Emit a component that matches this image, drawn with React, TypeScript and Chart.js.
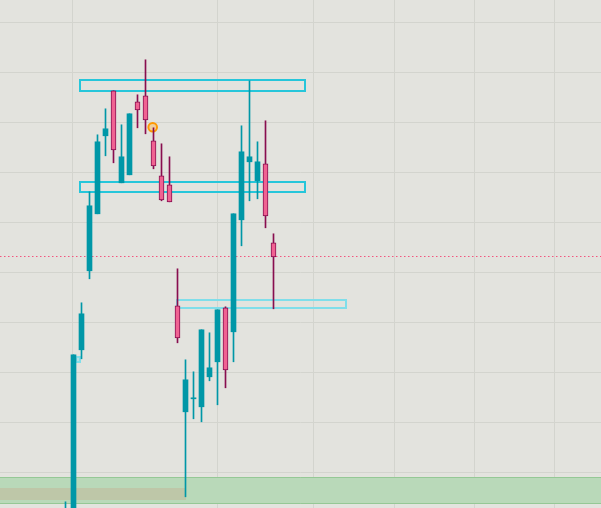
import React, { useEffect, useRef } from "react";
import { Chart, registerables } from "chart.js";

Chart.register(...registerables);

// ---- data ----
const candleIndex = [0, 1, 2, 3, 4, 5, 6, 7, 8, 9, 10, 11, 12, 13, 14, 15, 16, 17, 18, 19, 20, 21, 22, 23, 24, 25, 26];
const opens = [98.85, 98.25, 102.45, 104.03, 105.17, 106.73, 107.63, 105.79, 105.95, 107.41, 107.53, 106.63, 105.93, 105.75, 103.33, 101.21, 101.47, 101.31, 101.91, 102.21, 103.29, 102.81, 105.05, 106.21, 105.83, 106.17, 104.59];
const highs = [99.41, 102.35, 103.39, 105.61, 106.75, 107.27, 107.63, 106.95, 107.17, 107.55, 108.25, 106.89, 106.57, 106.31, 104.07, 102.25, 102.01, 102.85, 102.79, 103.25, 103.31, 105.17, 106.93, 107.83, 106.61, 107.03, 104.77];
const lows = [98.6, 97.85, 102.27, 103.87, 105.17, 106.33, 106.19, 105.79, 105.95, 106.89, 106.77, 106.07, 105.43, 105.41, 102.59, 99.51, 101.07, 101.01, 101.83, 101.35, 101.69, 102.21, 104.53, 105.43, 105.47, 104.89, 103.27];
const closes = [99.15, 102.35, 103.17, 105.33, 106.61, 106.87, 106.45, 106.31, 107.17, 107.25, 107.05, 106.13, 105.45, 105.41, 102.69, 101.85, 101.49, 102.85, 102.09, 103.25, 102.05, 105.17, 106.41, 106.31, 106.21, 105.13, 104.31];

// vertical grid (session boundaries) in candle-index units
const xGridTicks = [0.875, 18.975, 30.975, 41.1, 51.1, 61.1];
const yGridTicks = [100, 101, 102, 103, 104, 105, 106, 107, 108, 109];
const xRange = [-8.1875, 66.9375];
const yRange = [99.286, 109.446];

// [x1, x2, top, bottom]
const upperBox = [1.8125, 29.9, 107.85, 107.62];
const middleBox = [1.8125, 29.9, 105.81, 105.6];
const lowerBox = [13.94, 35.06, 103.45, 103.29];
const smallBox = [1.3125, 1.8125, 102.31, 102.21];
const greenZone = [-9, 70, 99.9, 99.372];
const tanZone = [-9, 15.025, 99.69, 99.45];
const dottedLevel = 104.32;
const markerPoint = [10.9, 106.9];

const UP = "#0097a7";
const DOWN_FILL = "#f06292";
const DOWN_LINE = "#880e4f";

export default function App() {
  const ref = useRef<HTMLCanvasElement | null>(null);

  useEffect(() => {
    const canvas = ref.current;
    if (!canvas) return;
    const isUp = candleIndex.map((_, i) => closes[i] >= opens[i]);

    const overlay = {
      id: "overlay",
      beforeDraw(chart: any) {
        const { ctx, width, height } = chart;
        ctx.save();
        ctx.fillStyle = "#e3e3de";
        ctx.fillRect(0, 0, width, height);
        ctx.restore();
      },
      beforeDatasetsDraw(chart: any) {
        const { ctx } = chart;
        const xs = chart.scales.x;
        const ys = chart.scales.y;
        const rect = (b: number[]) => {
          const x1 = Math.round(xs.getPixelForValue(b[0]));
          const x2 = Math.round(xs.getPixelForValue(b[1]));
          const y1 = Math.round(ys.getPixelForValue(b[2]));
          const y2 = Math.round(ys.getPixelForValue(b[3]));
          return [x1, y1, x2 - x1, y2 - y1];
        };
        ctx.save();
        // green zone
        let r = rect(greenZone);
        ctx.fillStyle = "#b9d9b9";
        ctx.fillRect(r[0], r[1], r[2], r[3]);
        ctx.strokeStyle = "rgba(140,195,140,0.8)";
        ctx.lineWidth = 1;
        ctx.beginPath();
        ctx.moveTo(r[0], r[1] + 0.5);
        ctx.lineTo(r[0] + r[2], r[1] + 0.5);
        ctx.moveTo(r[0], r[1] + r[3] - 0.5);
        ctx.lineTo(r[0] + r[2], r[1] + r[3] - 0.5);
        ctx.stroke();
        // tan zone
        r = rect(tanZone);
        ctx.fillStyle = "#bec7a8";
        ctx.fillRect(r[0], r[1], r[2], r[3]);
        // dotted level
        const dy = Math.round(ys.getPixelForValue(dottedLevel)) + 0.5;
        ctx.strokeStyle = "#f2557f";
        ctx.setLineDash([1.5, 2.5]);
        ctx.lineWidth = 1;
        ctx.beginPath();
        ctx.moveTo(0, dy);
        ctx.lineTo(chart.width, dy);
        ctx.stroke();
        ctx.setLineDash([]);
        // boxes
        ctx.lineWidth = 2;
        ctx.strokeStyle = "#26c6da";
        r = rect(upperBox);
        ctx.strokeRect(r[0], r[1], r[2], r[3]);
        r = rect(middleBox);
        ctx.strokeRect(r[0], r[1], r[2], r[3]);
        ctx.strokeStyle = "#80deea";
        r = rect(lowerBox);
        ctx.strokeRect(r[0], r[1], r[2], r[3]);
        r = rect(smallBox);
        ctx.fillStyle = "rgba(128,222,234,0.45)";
        ctx.fillRect(r[0], r[1], r[2], r[3]);
        ctx.strokeRect(r[0], r[1], r[2], r[3]);
        // marker circle
        const cx = xs.getPixelForValue(markerPoint[0]);
        const cy = ys.getPixelForValue(markerPoint[1]);
        ctx.beginPath();
        ctx.arc(cx, cy, 4.3, 0, Math.PI * 2);
        ctx.fillStyle = "rgba(255,183,77,0.45)";
        ctx.fill();
        ctx.strokeStyle = "#ff9800";
        ctx.lineWidth = 2;
        ctx.stroke();
        ctx.restore();
      },
    };

    const chart = new Chart(canvas, {
      type: "bar",
      data: {
        datasets: [
          {
            label: "wicks",
            data: candleIndex.map((x, i) => ({ x, y: [lows[i], highs[i]] })) as any,
            backgroundColor: isUp.map((u) => (u ? UP : DOWN_LINE)),
            borderWidth: 0,
            barThickness: 1,
            grouped: false,
            order: 2,
          } as any,
          {
            label: "bodies",
            data: candleIndex.map((x, i) => ({ x, y: [opens[i], closes[i]] })) as any,
            backgroundColor: isUp.map((u) => (u ? UP : DOWN_FILL)),
            borderColor: isUp.map((u) => (u ? UP : DOWN_LINE)),
            borderWidth: isUp.map((u) => (u ? 0 : 1)),
            borderSkipped: false,
            barThickness: 5,
            minBarLength: 1,
            grouped: false,
            order: 1,
          } as any,
        ],
      },
      options: {
        responsive: false,
        animation: false,
        devicePixelRatio: 1,
        events: [],
        layout: { padding: 0 },
        plugins: { legend: { display: false }, tooltip: { enabled: false } },
        scales: {
          x: {
            type: "linear",
            min: xRange[0],
            max: xRange[1],
            offset: false,
            afterBuildTicks: (s: any) => {
              s.ticks = xGridTicks.map((v) => ({ value: v }));
            },
            ticks: { display: false },
            grid: { color: "#d3d4ce", drawTicks: false, offset: false, lineWidth: 1 },
            border: { display: false },
          },
          y: {
            type: "linear",
            min: yRange[0],
            max: yRange[1],
            afterBuildTicks: (s: any) => {
              s.ticks = yGridTicks.map((v) => ({ value: v }));
            },
            ticks: { display: false },
            grid: { color: "#d3d4ce", drawTicks: false, lineWidth: 1 },
            border: { display: false },
          },
        },
      } as any,
      plugins: [overlay],
    });
    return () => chart.destroy();
  }, []);

  return (
    <div style={{ position: "fixed", left: 0, top: 0, width: 601, height: 508, background: "#e3e3de" }}>
      <canvas ref={ref} width={601} height={508} style={{ display: "block", width: 601, height: 508 }} />
    </div>
  );
}
